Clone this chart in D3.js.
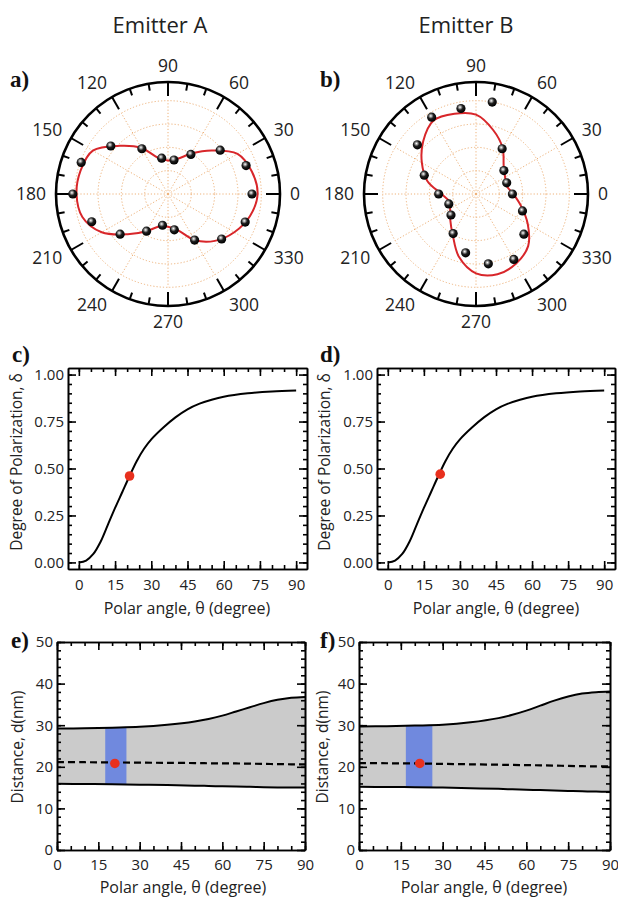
<!DOCTYPE html>
<html>
<head>
<meta charset="utf-8">
<script src="https://cdn.jsdelivr.net/npm/d3@7"></script>
<style>
  body { margin: 0; background: #fff; }
  svg { display: block; font-family: "Open Sans", "Noto Sans", sans-serif; }
  .tick text { font-family: "Open Sans", "Noto Sans", sans-serif; }
</style>
</head>
<body>
<div id="chart"></div>
<script>
// ---- data ----
// polar panels: measured points (every 20 deg) and fitted curve (every 15 deg)
var pointAngles = [0, 20, 40, 60, 80, 100, 120, 140, 160, 180, 200, 220, 240, 260, 280, 300, 320, 340];
var emitterAPoints = [0.90, 0.89, 0.73, 0.49, 0.37, 0.39, 0.56, 0.80, 0.99, 1.02, 0.87, 0.67, 0.46, 0.34, 0.39, 0.57, 0.75, 0.88];
var emitterBPoints = [0.39, 0.35, 0.39, 0.56, 1.00, 0.93, 0.95, 0.82, 0.59, 0.40, 0.31, 0.35, 0.49, 0.64, 0.76, 0.81, 0.67, 0.53];

var fitAngles = [0, 15, 30, 45, 60, 75, 90, 105, 120, 135, 150, 165, 180, 195, 210, 225, 240, 255, 270, 285, 300, 315, 330, 345];
var emitterAFit = [0.96, 0.93, 0.86, 0.66, 0.50, 0.39, 0.36, 0.40, 0.57, 0.73, 0.93, 0.97, 0.98, 0.95, 0.82, 0.61, 0.46, 0.36, 0.35, 0.40, 0.57, 0.71, 0.82, 0.91];
var emitterBFit = [0.40, 0.34, 0.36, 0.42, 0.57, 0.71, 0.85, 0.89, 0.91, 0.80, 0.67, 0.54, 0.37, 0.30, 0.32, 0.39, 0.50, 0.70, 0.85, 0.89, 0.86, 0.79, 0.64, 0.50];

var polarLabels = [0, 30, 60, 90, 120, 150, 180, 210, 240, 270, 300, 330];

// degree of polarization vs polar angle
var dopAngles = [0, 3, 6, 9, 12, 15, 18, 21, 24, 27, 30, 35, 40, 45, 50, 55, 60, 70, 80, 90];
var dopA = [0.00, 0.01, 0.045, 0.11, 0.20, 0.29, 0.375, 0.46, 0.54, 0.605, 0.655, 0.718, 0.772, 0.815, 0.845, 0.866, 0.882, 0.90, 0.91, 0.915];
var dopB = [0.00, 0.01, 0.045, 0.11, 0.20, 0.29, 0.375, 0.46, 0.54, 0.605, 0.655, 0.718, 0.772, 0.815, 0.845, 0.866, 0.882, 0.90, 0.91, 0.915];
var dopMarkA = [21.0, 0.46];
var dopMarkB = [21.8, 0.47];

// distance range vs polar angle
var distAngles = [0, 10, 20, 30, 40, 50, 55, 60, 65, 70, 75, 80, 85, 90];
var distUpperA = [29.2, 29.25, 29.4, 29.6, 30.1, 30.9, 31.5, 32.3, 33.3, 34.3, 35.3, 36.1, 36.6, 36.8];
var distLowerA = [15.9, 15.85, 15.8, 15.7, 15.6, 15.45, 15.4, 15.3, 15.25, 15.2, 15.1, 15.05, 15.0, 15.0];
var distMidA   = [21.1, 21.1, 21.05, 21.0, 20.95, 20.9, 20.85, 20.8, 20.8, 20.75, 20.7, 20.65, 20.6, 20.6];
var distUpperB = [29.7, 29.75, 29.9, 30.1, 30.7, 31.7, 32.5, 33.5, 34.7, 35.9, 36.9, 37.6, 37.95, 38.1];
var distLowerB = [15.2, 15.15, 15.1, 15.0, 14.85, 14.7, 14.6, 14.5, 14.4, 14.3, 14.2, 14.1, 14.05, 14.0];
var distMidB   = [20.9, 20.85, 20.8, 20.7, 20.6, 20.5, 20.45, 20.4, 20.35, 20.3, 20.2, 20.15, 20.1, 20.1];
var bandA = [17.5, 25.2];
var bandB = [16.8, 26.3];
var distMarkA = [21.0, 20.8];
var distMarkB = [21.8, 20.8];

var angleTicks = [0, 15, 30, 45, 60, 75, 90];
var dopTicks = [0, 0.25, 0.5, 0.75, 1.0];
var distTicks = [0, 10, 20, 30, 40, 50];

// ---- drawing ----
var svg = d3.select("#chart").append("svg")
    .attr("width", 618)
    .attr("height", 903);

var defs = svg.append("defs");
var ball = defs.append("radialGradient").attr("id", "ball")
    .attr("cx", "40%").attr("cy", "36%").attr("r", "62%");
ball.append("stop").attr("offset", "0%").attr("stop-color", "#ffffff");
ball.append("stop").attr("offset", "18%").attr("stop-color", "#b0b0b0");
ball.append("stop").attr("offset", "50%").attr("stop-color", "#1e1e1e");
ball.append("stop").attr("offset", "100%").attr("stop-color", "#000000");

var RED = "#d8262a";

function rad(deg) { return deg * Math.PI / 180; }

function drawPolar(cx, cy, angles, pts, fitAng, fit) {
  var R = 112;
  var r = d3.scaleLinear().domain([0, 1.2]).range([0, R]);
  var g = svg.append("g").attr("transform", "translate(" + cx + "," + cy + ")");

  // dotted grid
  [0.25, 0.5, 0.75, 1.0].forEach(function(v) {
    g.append("circle").attr("r", r(v))
      .attr("fill", "none").attr("stroke", "#eeb27a")
      .attr("stroke-width", 1).attr("stroke-dasharray", "1.2,2");
  });
  d3.range(0, 360, 30).forEach(function(a) {
    g.append("line")
      .attr("x1", 0).attr("y1", 0)
      .attr("x2", r(1.0) * Math.cos(rad(a)))
      .attr("y2", -r(1.0) * Math.sin(rad(a)))
      .attr("stroke", "#eeb27a").attr("stroke-width", 1)
      .attr("stroke-dasharray", "1.2,2");
  });

  // outer ring and ticks
  g.append("circle").attr("r", R).attr("fill", "none")
    .attr("stroke", "#000").attr("stroke-width", 2.6);
  d3.range(0, 360, 10).forEach(function(a) {
    var len = a % 30 === 0 ? 14 : 7;
    g.append("line")
      .attr("x1", R * Math.cos(rad(a))).attr("y1", -R * Math.sin(rad(a)))
      .attr("x2", (R - len) * Math.cos(rad(a))).attr("y2", -(R - len) * Math.sin(rad(a)))
      .attr("stroke", "#000").attr("stroke-width", 2);
  });

  // fitted curve
  var fitData = fitAng.map(function(a, i) { return { a: a, v: fit[i] }; });
  var line = d3.lineRadial()
      .angle(function(d) { return rad(90 - d.a); })
      .radius(function(d) { return r(d.v); })
      .curve(d3.curveCatmullRomClosed.alpha(0.5));
  g.append("path").datum(fitData).attr("d", line)
    .attr("fill", "none").attr("stroke", RED).attr("stroke-width", 2);

  // measured points
  var ptData = angles.map(function(a, i) { return { a: a, v: pts[i] }; });
  g.selectAll(".pt").data(ptData).enter().append("circle")
    .attr("class", "pt")
    .attr("cx", function(d) { return r(d.v) * Math.cos(rad(d.a)); })
    .attr("cy", function(d) { return -r(d.v) * Math.sin(rad(d.a)); })
    .attr("r", 4.6)
    .attr("fill", "url(#ball)");

  // angle labels
  var LR = 122;
  g.selectAll(".alab").data(polarLabels).enter().append("text")
    .attr("class", "alab")
    .attr("x", function(d) { return LR * Math.cos(rad(d)); })
    .attr("y", function(d) { return -LR * Math.sin(rad(d)) - 6 * Math.sin(rad(d)); })
    .attr("dy", "0.36em")
    .attr("text-anchor", function(d) {
      var c = Math.cos(rad(d));
      return c > 0.1 ? "start" : (c < -0.1 ? "end" : "middle");
    })
    .attr("font-size", "17.5px")
    .attr("fill", "#222")
    .text(function(d) { return d; });
}

function styleAxis(sel) {
  sel.select(".domain").attr("stroke", "#000").attr("stroke-width", 1.6);
  sel.selectAll(".tick line").attr("stroke", "#000").attr("stroke-width", 1.6);
  sel.selectAll(".tick text").attr("font-size", "15px").attr("fill", "#222");
}

function frame(g, x, y, xMajor, xMinor, yMajor, yMinor, yFmt, xPad) {
  var xr = x.range(), yr = y.range();
  var bottom = yr[0], top = yr[1], left = xr[0], right = xr[1];

  g.append("g").attr("transform", "translate(0," + bottom + ")")
    .call(d3.axisBottom(x).tickValues(xMajor).tickSize(-8).tickSizeOuter(0).tickPadding(xPad))
    .call(styleAxis);
  g.append("g").attr("transform", "translate(0," + bottom + ")")
    .call(d3.axisBottom(x).tickValues(xMinor).tickSize(-4).tickSizeOuter(0).tickFormat(""))
    .call(styleAxis);
  g.append("g").attr("transform", "translate(0," + top + ")")
    .call(d3.axisTop(x).tickValues(xMajor).tickSize(-8).tickSizeOuter(0).tickFormat(""))
    .call(styleAxis);
  g.append("g").attr("transform", "translate(0," + top + ")")
    .call(d3.axisTop(x).tickValues(xMinor).tickSize(-4).tickSizeOuter(0).tickFormat(""))
    .call(styleAxis);

  g.append("g").attr("transform", "translate(" + left + ",0)")
    .call(d3.axisLeft(y).tickValues(yMajor).tickSize(-8).tickSizeOuter(0).tickPadding(4).tickFormat(yFmt))
    .call(styleAxis);
  g.append("g").attr("transform", "translate(" + left + ",0)")
    .call(d3.axisLeft(y).tickValues(yMinor).tickSize(-4).tickSizeOuter(0).tickFormat(""))
    .call(styleAxis);
  g.append("g").attr("transform", "translate(" + right + ",0)")
    .call(d3.axisRight(y).tickValues(yMajor).tickSize(-8).tickSizeOuter(0).tickFormat(""))
    .call(styleAxis);
  g.append("g").attr("transform", "translate(" + right + ",0)")
    .call(d3.axisRight(y).tickValues(yMinor).tickSize(-4).tickSizeOuter(0).tickFormat(""))
    .call(styleAxis);
}

function axisTitles(g, xText, xPos, yText, yPos) {
  g.append("text").attr("x", xPos[0]).attr("y", xPos[1]).attr("dy", "0.35em")
    .attr("text-anchor", "middle").attr("font-size", "16px").attr("fill", "#222")
    .text(xText);
  g.append("text")
    .attr("transform", "translate(" + yPos[0] + "," + yPos[1] + ") rotate(-90)")
    .attr("dy", "0.35em")
    .attr("text-anchor", "middle").attr("font-size", "15.5px").attr("fill", "#222")
    .text(yText);
}

function drawDop(left, right, curve, mark, xLabelX, yLabelX) {
  var g = svg.append("g");
  var x = d3.scaleLinear().domain([-4.5, 94.5]).range([left, right]);
  var y = d3.scaleLinear().domain([-0.035, 1.035]).range([569, 368]);
  var data = dopAngles.map(function(t, i) { return { t: t, v: curve[i] }; });

  g.append("path").datum(data)
    .attr("d", d3.line().x(function(d) { return x(d.t); })
      .y(function(d) { return y(d.v); }).curve(d3.curveCatmullRom.alpha(0.5)))
    .attr("fill", "none").attr("stroke", "#000").attr("stroke-width", 2);

  frame(g, x, y, angleTicks, d3.range(0, 91, 5), dopTicks, d3.range(0, 1.001, 0.05),
    d3.format(".2f"), 10);

  g.append("circle").attr("cx", x(mark[0])).attr("cy", y(mark[1]))
    .attr("r", 4.8).attr("fill", "#e8301e");

  axisTitles(g, "Polar angle, \u03b8 (degree)", [xLabelX, 608],
    "Degree of Polarization, \u03b4", [yLabelX, 462]);
}

function drawDist(left, right, upper, lower, mid, band, mark, clipId, xLabelX, yLabelX) {
  var g = svg.append("g");
  var x = d3.scaleLinear().domain([0, 90]).range([left, right]);
  var y = d3.scaleLinear().domain([0, 50]).range([850, 642]);
  var data = distAngles.map(function(t, i) {
    return { t: t, hi: upper[i], lo: lower[i], mid: mid[i] };
  });

  var area = d3.area().x(function(d) { return x(d.t); })
    .y0(function(d) { return y(d.lo); })
    .y1(function(d) { return y(d.hi); })
    .curve(d3.curveCatmullRom.alpha(0.5));

  g.append("path").datum(data).attr("d", area).attr("fill", "#cbcbcb");

  defs.append("clipPath").attr("id", clipId).append("rect")
    .attr("x", x(band[0])).attr("width", x(band[1]) - x(band[0]))
    .attr("y", y(50)).attr("height", y(0) - y(50));
  g.append("path").datum(data).attr("d", area)
    .attr("fill", "#7089de").attr("clip-path", "url(#" + clipId + ")");

  function edge(key) {
    return d3.line().x(function(d) { return x(d.t); })
      .y(function(d) { return y(d[key]); }).curve(d3.curveCatmullRom.alpha(0.5));
  }
  g.append("path").datum(data).attr("d", edge("hi"))
    .attr("fill", "none").attr("stroke", "#000").attr("stroke-width", 2);
  g.append("path").datum(data).attr("d", edge("lo"))
    .attr("fill", "none").attr("stroke", "#000").attr("stroke-width", 2);
  g.append("path").datum(data).attr("d", edge("mid"))
    .attr("fill", "none").attr("stroke", "#000").attr("stroke-width", 2.2)
    .attr("stroke-dasharray", "7,4");

  g.append("circle").attr("cx", x(mark[0])).attr("cy", y(mark[1]))
    .attr("r", 4.8).attr("fill", "#e8301e");

  frame(g, x, y, angleTicks, d3.range(0, 91, 5), distTicks, d3.range(0, 51, 2),
    d3.format("d"), 9);

  axisTitles(g, "Polar angle, \u03b8 (degree)", [xLabelX, 887],
    "Distance, d(nm)", [yLabelX, 747]);
}

// titles
svg.append("text").attr("x", 160).attr("y", 33).attr("text-anchor", "middle")
  .attr("font-size", "22px").attr("fill", "#222").text("Emitter A");
svg.append("text").attr("x", 466).attr("y", 33).attr("text-anchor", "middle")
  .attr("font-size", "22px").attr("fill", "#222").text("Emitter B");

drawPolar(168, 194, pointAngles, emitterAPoints, fitAngles, emitterAFit);
drawPolar(476, 194, pointAngles, emitterBPoints, fitAngles, emitterBFit);

drawDop(68, 307, dopA, dopMarkA, 187, 17);
drawDop(377, 615, dopB, dopMarkB, 496, 325);

drawDist(57, 305, distUpperA, distLowerA, distMidA, bandA, distMarkA, "clipE", 183, 18);
drawDist(359, 610, distUpperB, distLowerB, distMidB, bandB, distMarkB, "clipF", 484, 323);

// panel letters
var letters = [["a)", 10, 87], ["b)", 320, 87], ["c)", 12, 362], ["d)", 320, 362], ["e)", 11, 648], ["f)", 320, 648]];
svg.selectAll(".plab").data(letters).enter().append("text")
  .attr("class", "plab")
  .attr("x", function(d) { return d[1]; })
  .attr("y", function(d) { return d[2]; })
  .attr("font-family", "'Liberation Serif', 'DejaVu Serif', serif")
  .attr("font-weight", "bold")
  .attr("font-size", "23px")
  .attr("fill", "#111")
  .text(function(d) { return d[0]; });
</script>
</body>
</html>
